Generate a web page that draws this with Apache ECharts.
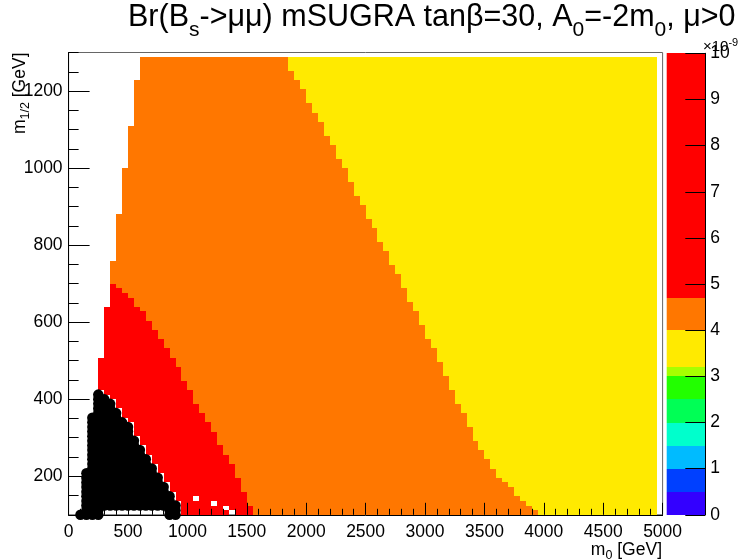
<!DOCTYPE html>
<html>
<head>
<meta charset="utf-8">
<script src="https://cdn.jsdelivr.net/npm/echarts@6/dist/echarts.min.js"></script>
<style>
  html, body { margin: 0; padding: 0; background: #fff; }
  #chart { width: 746px; height: 560px; }
</style>
</head>
<body>
<div id="chart"></div>
<script>
// Br(Bs -> mu mu) over the mSUGRA (m0, m1/2) plane, binned 50 GeV x 12 GeV.
const binWidthM0 = 50;
const binHeightM12 = 12;
const m12Bottom = 100;
const scanTopM12 = 1288;   // upper edge of the highest filled row
const scanRightM0 = 4950;  // right edge of the last filled column

// Low-m0 columns are only filled up to these m1/2 values
const leftColsM0  = [250, 300, 350, 400, 450, 500, 550];
const leftColsTop = [508, 640, 760, 880, 1000, 1108, 1228];

// Red band (Br above 4.7e-9): bins below these m1/2 values
const redColsM0  = [250, 300, 350, 400, 450, 500, 550, 600, 650, 700, 750, 800, 850,
                    900, 950, 1000, 1050, 1100, 1150, 1200, 1250, 1300, 1350, 1400, 1450, 1500];
const redColsTop = [508, 640, 700, 688, 676, 664, 640, 628, 604, 580, 556, 532, 508,
                    484, 448, 424, 388, 364, 340, 316, 280, 256, 232, 196, 160, 124];

// Yellow band (Br below 4e-9): bins from these m1/2 values upward
const yellowColsM0   = [1850, 1900, 1950, 2000, 2050, 2100, 2150, 2200, 2250, 2300, 2350,
                        2400, 2450, 2500, 2550, 2600, 2650, 2700, 2750, 2800, 2850, 2900,
                        2950, 3000, 3050, 3100, 3150, 3200, 3250, 3300, 3350, 3400, 3450,
                        3500, 3550, 3600, 3650, 3700, 3750, 3800, 3850, 3900, 3950];
const yellowColsFrom = [1252, 1228, 1204, 1168, 1144, 1120, 1084, 1060, 1024, 1000, 964,
                        928, 904, 868, 844, 808, 784, 748, 724, 688, 652, 628,
                        592, 556, 532, 496, 460, 424, 388, 364, 328, 292, 268,
                        244, 220, 196, 184, 172, 148, 136, 124, 112, 100];

// Excluded scan points (black markers): m1/2 range per m0 column
const excludedM0   = [100, 150, 200, 250, 300, 350, 400, 450, 500, 550, 600, 650, 700, 750, 800, 850, 900];
const excludedLow  = [100, 100, 100, 100, 124, 124, 124, 124, 124, 124, 124, 124, 124, 124, 124, 100, 100];
const excludedHigh = [100, 208, 352, 412, 400, 388, 364, 340, 328, 292, 268, 244, 220, 196, 172, 148, 124];

// Empty bins inside the red band [m0, m1/2]
const emptyBins = [[1050, 136], [1200, 124], [1300, 112], [1350, 100]];

// Representative Br (x 1e-9) of each band
const bandValue = { red: 5.2, orange: 4.35, yellow: 3.6 };

// Colour levels of the palette
const paletteEdges  = [0, 0.5, 1, 1.5, 2, 2.5, 3, 3.2, 4, 4.7, 10];
const paletteColors = ['#3300ff', '#0040ff', '#00bbff', '#00ffcc', '#00ff55',
                       '#22ff00', '#a6ff00', '#ffea00', '#ff7700', '#ff0000'];

// Labelled m1/2 ticks
const m12Ticks = [200, 400, 600, 800, 1000, 1200];

const FONT = '"Liberation Sans", Arial, Helvetica, sans-serif';

function lookup(xs, ys, x) {
  const i = xs.indexOf(x);
  return i < 0 ? undefined : ys[i];
}

// Build vertical runs of equal-valued bins per m0 column
const cells = [];
for (let x = leftColsM0[0]; x < scanRightM0; x += binWidthM0) {
  let top = lookup(leftColsM0, leftColsTop, x);
  if (top === undefined) top = scanTopM12;
  const exTop = lookup(excludedM0, excludedHigh, x);
  const bottom = exTop === undefined ? m12Bottom : exTop + binHeightM12;
  let redTop = lookup(redColsM0, redColsTop, x);
  if (redTop === undefined) redTop = m12Bottom;
  let yellowFrom = lookup(yellowColsM0, yellowColsFrom, x);
  if (yellowFrom === undefined) yellowFrom = x < yellowColsM0[0] ? Infinity : m12Bottom;
  let run = null;
  for (let y = bottom; y < top; y += binHeightM12) {
    const empty = emptyBins.some(b => b[0] === x && b[1] === y);
    const v = empty ? null
      : (y < redTop ? bandValue.red : (y >= yellowFrom ? bandValue.yellow : bandValue.orange));
    if (run && v !== null && run[4] === v) {
      run[3] = y + binHeightM12;
    } else {
      if (run && run[4] !== null) cells.push(run);
      run = [x, x + binWidthM0, y, y + binHeightM12, v];
    }
  }
  if (run && run[4] !== null) cells.push(run);
}

const excludedPts = [];
excludedM0.forEach((x, i) => {
  for (let y = excludedLow[i]; y <= excludedHigh[i]; y += binHeightM12) excludedPts.push([x, y]);
});

const paletteSegments = paletteColors.map((c, i) => [paletteEdges[i], paletteEdges[i + 1], i]);
const pieces = paletteColors.map((c, i) => ({ gte: paletteEdges[i], lt: paletteEdges[i + 1], color: c }));

const chart = echarts.init(document.getElementById('chart'));

const INK = '#000';
const labelStyle = { color: INK, fontSize: 17.5, fontFamily: FONT, formatter: v => String(v) };

chart.setOption({
  animation: false,
  backgroundColor: '#fff',
  grid: [
    { left: 68.6, top: 52.5, width: 594, height: 462.3, show: true,
      borderColor: '#666', borderWidth: 1, backgroundColor: 'transparent' },
    { left: 666.7, top: 53.3, width: 38.6, height: 461.5, show: false }
  ],
  visualMap: {
    type: 'piecewise', show: false, seriesIndex: 0, dimension: 4, pieces: pieces
  },
  xAxis: [
    { gridIndex: 0, type: 'value', min: 0, max: 5000, interval: 500, z: 10,
      axisLine: { show: true, onZero: false, lineStyle: { color: INK, width: 1 } },
      axisTick: { show: true, inside: true, length: 12, lineStyle: { color: INK } },
      minorTick: { show: true, splitNumber: 5, length: 6, lineStyle: { color: INK } },
      axisLabel: Object.assign({ margin: 8, showMinLabel: true, showMaxLabel: true }, labelStyle),
      splitLine: { show: false }, minorSplitLine: { show: false } },
    { gridIndex: 1, type: 'value', min: 0, max: 1, show: false }
  ],
  yAxis: [
    // minor ticks every 50 GeV
    { gridIndex: 0, type: 'value', position: 'left', min: 100, max: 1300, interval: 50, z: 10,
      axisLine: { show: true, onZero: false, lineStyle: { color: INK, width: 1 } },
      axisTick: { show: true, inside: true, length: 10, lineStyle: { color: INK } },
      axisLabel: { show: false }, splitLine: { show: false } },
    // labelled major ticks
    { gridIndex: 0, type: 'value', position: 'left', min: 100, max: 1300, z: 11,
      axisLine: { show: false, onZero: false },
      axisTick: { show: true, inside: true, length: 21, customValues: m12Ticks,
                  lineStyle: { color: INK } },
      axisLabel: Object.assign({ margin: 6, customValues: m12Ticks }, labelStyle),
      splitLine: { show: false } },
    // palette scale
    { gridIndex: 1, type: 'value', position: 'right', min: 0, max: 10, interval: 1, z: 10,
      axisLine: { show: true, onZero: false, lineStyle: { color: INK, width: 1 } },
      axisTick: { show: true, inside: true, length: 20, lineStyle: { color: INK, width: 1 } },
      axisLabel: Object.assign({ margin: 5 }, labelStyle),
      splitLine: { show: false } }
  ],
  series: [
    {
      type: 'custom', xAxisIndex: 0, yAxisIndex: 0, z: 2,
      encode: { x: [0, 1], y: [2, 3] },
      data: cells,
      renderItem: function (params, api) {
        const p0 = api.coord([api.value(0), api.value(3)]);
        const p1 = api.coord([api.value(1), api.value(2)]);
        const x0 = Math.round(p0[0]), x1 = Math.round(p1[0]);
        const y0 = Math.round(p0[1]), y1 = Math.round(p1[1]);
        return { type: 'rect', shape: { x: x0, y: y0, width: x1 - x0, height: y1 - y0 },
                 style: { fill: api.visual('color') } };
      }
    },
    {
      type: 'scatter', xAxisIndex: 0, yAxisIndex: 0, z: 3, clip: false,
      symbol: 'circle', symbolSize: 10.5,
      itemStyle: { color: '#000', opacity: 1 },
      emphasis: { disabled: true },
      data: excludedPts
    },
    {
      type: 'custom', xAxisIndex: 1, yAxisIndex: 2, z: 2,
      data: paletteSegments,
      renderItem: function (params, api) {
        const p0 = api.coord([0, api.value(1)]);
        const p1 = api.coord([1, api.value(0)]);
        return { type: 'rect',
                 shape: { x: p0[0], y: Math.round(p0[1]), width: p1[0] - p0[0],
                          height: Math.round(p1[1]) - Math.round(p0[1]) },
                 style: { fill: paletteColors[api.value(2)] } };
      }
    }
  ],
  graphic: [
    { type: 'text', x: 128, y: -6,
      style: { text: 'Br(B{s|s}->μμ) mSUGRA tanβ=30, A{s|0}=-2m{s|0}, μ>0',
               fill: '#000', fontSize: 30.5, fontFamily: FONT,
               align: 'left', verticalAlign: 'top',
               rich: { s: { fontSize: 21, fontFamily: FONT, fill: '#000', padding: [26, 0, 0, 0] } } } },
    { type: 'text', x: 662, y: 539,
      style: { text: 'm{s|0} [GeV]', fill: '#000', fontSize: 17.5, fontFamily: FONT,
               align: 'right', verticalAlign: 'top',
               rich: { s: { fontSize: 12.5, fontFamily: FONT, fill: '#000', padding: [10, 0, 0, 0] } } } },
    { type: 'text', x: 9, y: 52.5, rotation: Math.PI / 2,
      style: { text: 'm{s|1/2} [GeV]', fill: '#000', fontSize: 17.5, fontFamily: FONT,
               align: 'right', verticalAlign: 'top',
               rich: { s: { fontSize: 12.5, fontFamily: FONT, fill: '#000', padding: [10, 0, 0, 0] } } } },
    { type: 'text', x: 703, y: 37,
      style: { text: '×10{p|-9}', fill: '#000', fontSize: 15, fontFamily: FONT,
               align: 'left', verticalAlign: 'top',
               rich: { p: { fontSize: 11, fontFamily: FONT, fill: '#000', padding: [0, 0, 8, 0] } } } }
  ]
});
</script>
</body>
</html>
